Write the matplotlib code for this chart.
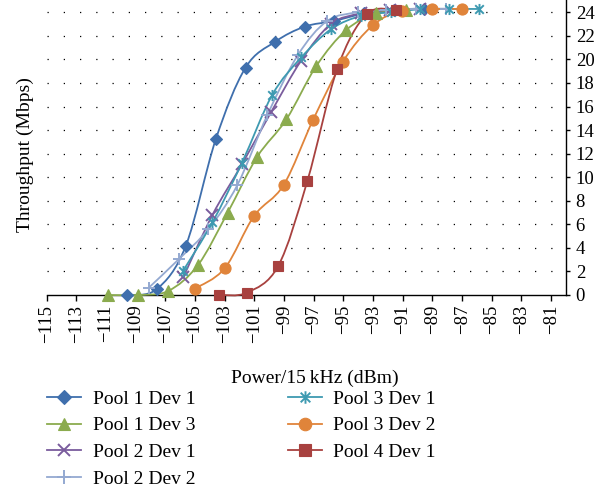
import matplotlib
matplotlib.use("Agg")
import matplotlib.pyplot as plt
from matplotlib.path import Path
from matplotlib.patches import PathPatch
from matplotlib.lines import Line2D
import numpy as np

# ---- data ----
series_names = ["Pool 1 Dev 1", "Pool 1 Dev 3", "Pool 2 Dev 1", "Pool 2 Dev 2",
                "Pool 3 Dev 1", "Pool 3 Dev 2", "Pool 4 Dev 1"]

p1d1_x = [-109.6, -107.6, -105.63, -103.6, -101.6, -99.6, -97.62, -95.65, -93.6, -91.6, -89.6]
p1d1_y = [0.0, 0.48, 4.16, 13.24, 19.3, 21.5, 22.78, 23.26, 23.9, 24.2, 24.3]

p1d3_x = [-110.85, -108.83, -106.8, -104.8, -102.8, -100.83, -98.85, -96.84, -94.81, -92.8, -90.8]
p1d3_y = [0.0, 0.0, 0.35, 2.55, 7.0, 11.7, 14.9, 19.42, 22.5, 23.9, 24.2]

p2d1_x = [-105.8, -103.83, -101.84, -99.86, -97.85, -95.85, -93.85, -91.85, -89.85]
p2d1_y = [1.5, 6.8, 11.1, 15.56, 19.9, 23.0, 23.9, 24.2, 24.3]

p2d2_x = [-108.12, -106.08, -104.1, -102.15, -100.13, -98.07, -96.1, -94.03, -92.1, -90.1, -88.1]
p2d2_y = [0.62, 3.06, 5.6, 9.34, 15.28, 20.37, 23.26, 24.0, 24.2, 24.3, 24.3]

p3d1_x = [-105.8, -103.83, -101.84, -99.8, -97.84, -95.82, -93.8, -91.8, -89.83, -87.86, -85.84]
p3d1_y = [2.07, 6.17, 11.23, 16.98, 20.17, 22.58, 23.7, 24.0, 24.25, 24.28, 24.28]

p3d2_x = [-105.0, -103.0, -101.03, -99.03, -97.05, -95.04, -93.02, -91.04, -89.05, -87.03]
p3d2_y = [0.55, 2.27, 6.7, 9.34, 14.86, 19.8, 22.9, 24.15, 24.28, 24.28]

p4d1_x = [-103.4, -101.5, -99.4, -97.44, -95.42, -93.43, -91.45]
p4d1_y = [0.0, 0.2, 2.46, 9.65, 19.2, 23.85, 24.19]

x_ticks = [-115, -113, -111, -109, -107, -105, -103, -101, -99, -97, -95, -93,
           -91, -89, -87, -85, -83, -81]
x_tick_labels = ["\u2212115", "\u2212113", "\u2212111", "\u2212109", "\u2212107", "\u2212105",
                 "\u2212103", "\u2212101", "\u221299", "\u221297", "\u221295", "\u221293",
                 "\u221291", "\u221289", "\u221287", "\u221285", "\u221283", "\u221281"]
y_ticks = [0, 2, 4, 6, 8, 10, 12, 14, 16, 18, 20, 22, 24]
y_tick_labels = ["0", "2", "4", "6", "8", "10", "12", "14", "16", "18", "20", "22", "24"]

xs = [p1d1_x, p1d3_x, p2d1_x, p2d2_x, p3d1_x, p3d2_x, p4d1_x]
ys = [p1d1_y, p1d3_y, p2d1_y, p2d2_y, p3d1_y, p3d2_y, p4d1_y]

# ---- style ----
star = Path([(-1, -1), (1, 1), (-1, 1), (1, -1), (0, -1.3), (0, 1.3)],
            [Path.MOVETO, Path.LINETO, Path.MOVETO, Path.LINETO, Path.MOVETO, Path.LINETO])
colors = ["#3F6FAD", "#8BAB4E", "#7A5C9D", "#94A9D1", "#3E9AB1", "#E0843A", "#A8413F"]
markers = ["D", "^", "x", "+", star, "o", "s"]
msizes = [6.5, 8, 8, 9, 8, 8, 7.5]

plt.rcParams['font.family'] = ['Liberation Serif', 'DejaVu Serif']

fig = plt.figure(figsize=(6.06, 4.88), dpi=100)
ax = fig.add_axes([0.0771, 0.3955, 0.8569, 0.6035])


def smooth_path(x, y):
    pts = np.column_stack([x, y]).astype(float)
    n = len(pts)
    verts = [pts[0]]
    codes = [Path.MOVETO]
    for i in range(n - 1):
        p0 = pts[i - 1] if i > 0 else pts[i]
        p1 = pts[i]
        p2 = pts[i + 1]
        p3 = pts[i + 2] if i + 2 < n else pts[i + 1]
        c1 = p1 + (p2 - p0) / 6.0
        c2 = p2 - (p3 - p1) / 6.0
        verts += [c1, c2, p2]
        codes += [Path.CURVE4, Path.CURVE4, Path.CURVE4]
    return Path(verts, codes)


handles = []
for name, x, y, c, m, ms in zip(series_names, xs, ys, colors, markers, msizes):
    patch = PathPatch(smooth_path(x, y), facecolor="none", edgecolor=c,
                      lw=1.3, transform=ax.transData, zorder=3, clip_on=False)
    ax.add_patch(patch)
    line_marker = isinstance(m, Path) or m in ("x", "+")
    mew = 1.4 if line_marker else 0.8
    ax.plot(x, y, linestyle="none", marker=m, color=c, ms=ms, mew=mew, zorder=4, clip_on=False)
    handles.append(Line2D([], [], color=c, lw=1.3, marker=m, ms=ms + 1, mew=mew))

ax.set_xlim(-115, -80)
ax.set_ylim(0, 25)

ax.set_xticks(x_ticks)
ax.set_xticklabels(x_tick_labels, rotation=90, fontsize=13.5)
ax.set_yticks(y_ticks)
ax.set_yticklabels(y_tick_labels, fontsize=13.5)

ax.yaxis.tick_right()
ax.yaxis.set_label_position('left')
for s in ("left", "top"):
    ax.spines[s].set_visible(False)
for s in ("right", "bottom"):
    ax.spines[s].set_color("black")
    ax.spines[s].set_linewidth(1.0)
ax.tick_params(axis="x", direction="out", length=4, width=1, pad=3, colors="black")
ax.tick_params(axis="y", direction="out", length=3, width=1, pad=4, colors="black")

for yv in y_ticks[1:]:
    ax.axhline(yv, color="black", lw=0.9, linestyle=(0, (1.0, 12.0)), zorder=1)

ax.set_ylabel("Throughput (Mbps)", fontsize=14)
ax.yaxis.set_label_coords(-0.024, 0.478)
ax.set_xlabel("Power/15\u2009kHz (dBm)", fontsize=14)
ax.xaxis.set_label_coords(0.517, -0.255)

fig.legend(handles, series_names, loc="upper left", bbox_to_anchor=(47 / 606, 1 - 390 / 488),
           ncol=2, frameon=False, fontsize=14, handlelength=1.75, handletextpad=0.6,
           columnspacing=4.75, labelspacing=0.47, borderpad=0, borderaxespad=0)

fig.savefig("out.png", dpi=100)
